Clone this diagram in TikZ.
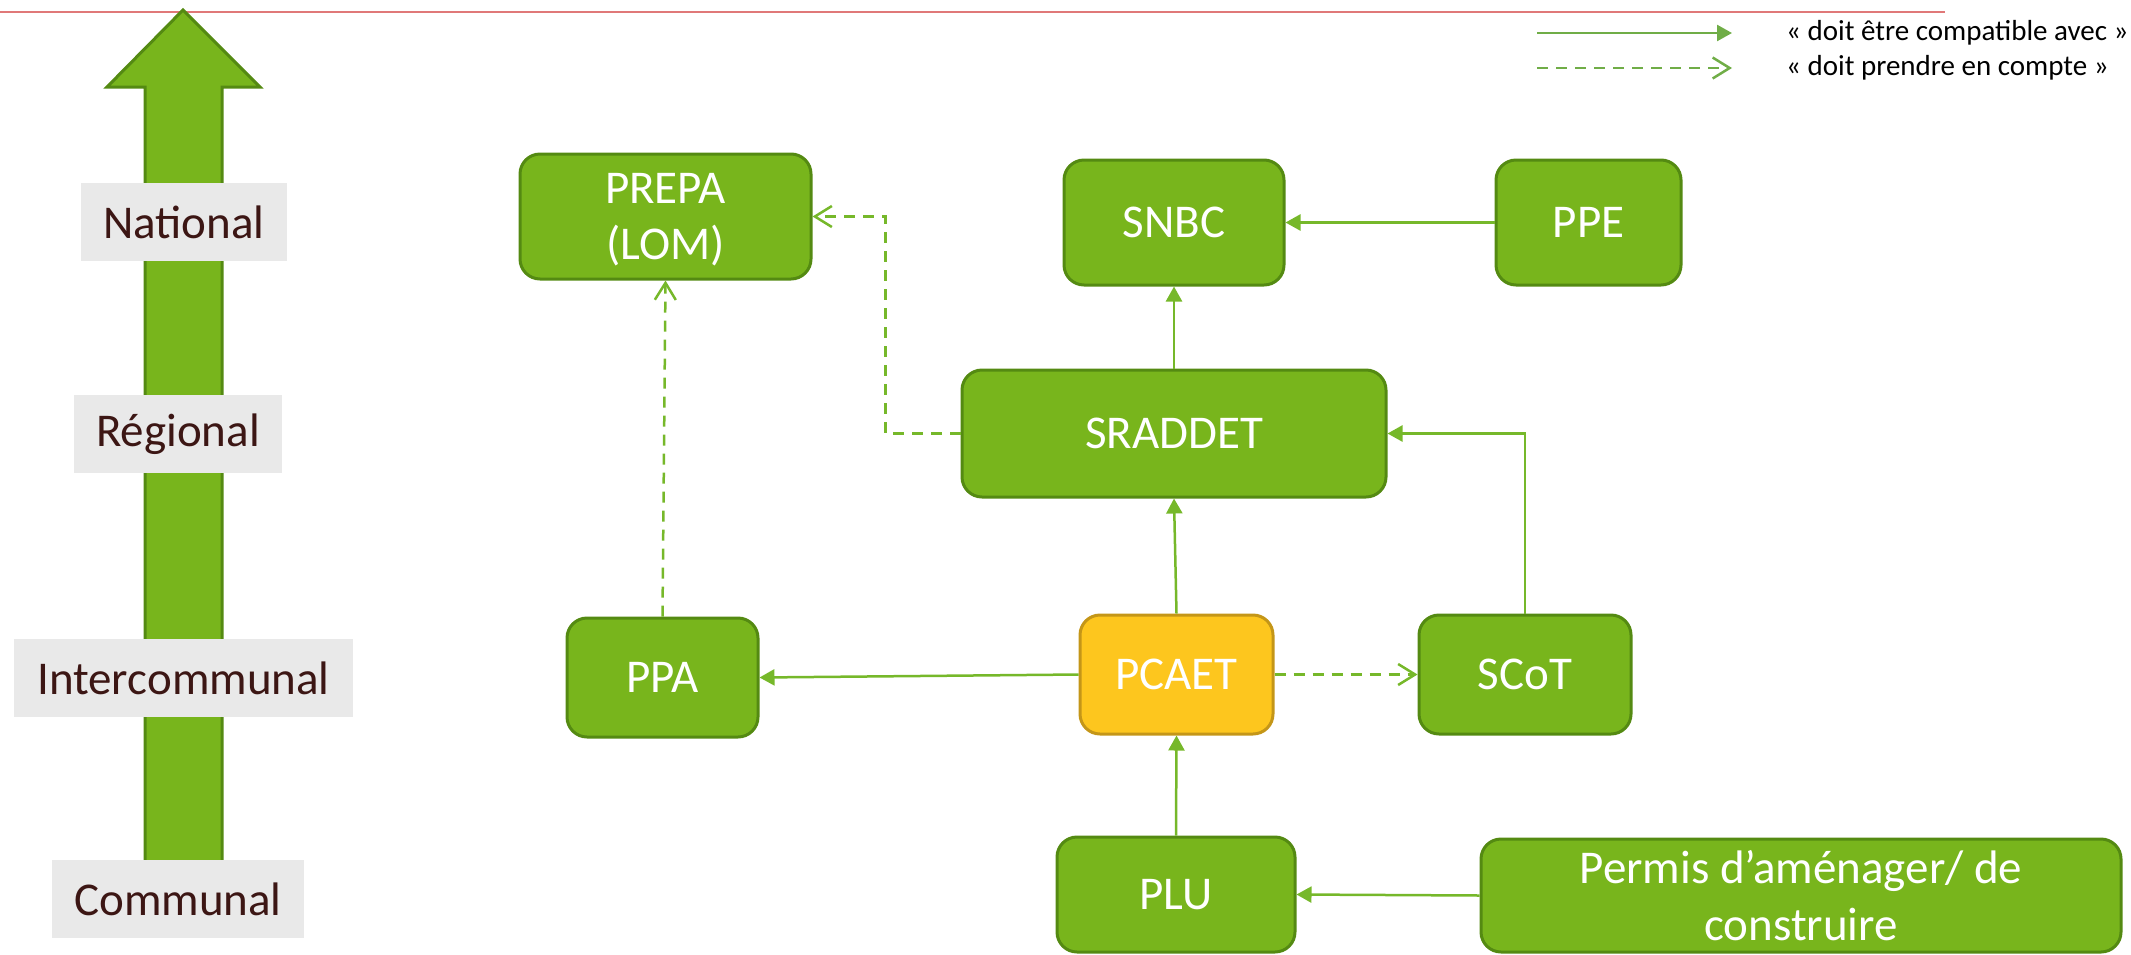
\documentclass[tikz,border=0pt]{standalone}
\usepackage{fontspec}
\setmainfont{Carlito}
\usetikzlibrary{arrows.meta,calc}
\definecolor{boxgreen}{RGB}{120,181,28}
\definecolor{boxedge}{RGB}{84,138,18}
\definecolor{linkgreen}{RGB}{118,184,42}
\definecolor{leggreen}{RGB}{112,173,71}
\definecolor{pcaetfill}{RGB}{253,198,30}
\definecolor{pcaetedge}{RGB}{196,150,24}
\definecolor{lblfill}{RGB}{233,233,233}
\definecolor{lbltext}{RGB}{60,22,20}
\definecolor{redline}{RGB}{224,120,120}
\tikzset{
  planbox/.style={draw=boxedge, fill=boxgreen, line width=3pt, rounded corners=20pt,
    text=white, inner sep=0pt, align=center, font=\fontsize{47}{56}\selectfont},
  yellowbox/.style={planbox, draw=pcaetedge, fill=pcaetfill},
  levellabel/.style={fill=lblfill, text=lbltext, inner sep=0pt, font=\fontsize{47}{57}\selectfont},
  compat/.style={draw=linkgreen, line width=2.5pt, -{Triangle[length=15pt,width=16pt]}},
  compte/.style={draw=linkgreen, line width=2.5pt, dash pattern=on 11pt off 8pt,
    -{Straight Barb[length=17pt,width=21pt]}},
  legtext/.style={anchor=west, inner sep=0pt, text=black, font=\fontsize{29}{35}\selectfont},
}
\begin{document}
\begin{tikzpicture}[x=1pt,y=-1pt]
\useasboundingbox (0,0) rectangle (2131,954);
% top red line
\draw[redline, line width=2pt] (0,12) -- (1945,12);
% big level arrow
\draw[fill=boxgreen, draw=boxedge, line width=3pt, line join=miter]
  (183,10) -- (260,87) -- (222,87) -- (222,900) -- (145,900) -- (145,87) -- (107,87) -- cycle;
% level labels
\node[levellabel, minimum width=206pt, minimum height=78pt] (national) at (184,222) {National};
\node[levellabel, minimum width=208pt, minimum height=78pt] (regional) at (178,434) {Régional};
\node[levellabel, minimum width=339pt, minimum height=78pt] (intercom) at (183.5,678) {Intercommunal};
\node[levellabel, minimum width=252pt, minimum height=78pt] (communal) at (178,899) {Communal};
% legend
\coordinate (la1) at (1537,33);
\coordinate (lb1) at (1732,33);
\coordinate (la2) at (1537,68);
\coordinate (lb2) at (1732,68);
\draw[compat, draw=leggreen] (la1) -- (lb1);
\draw[compte, draw=leggreen] (la2) -- (lb2);
\node[legtext] (lt1) at (1786,33) {« doit être compatible avec »};
\node[legtext] (lt2) at (1786,68) {« doit prendre en compte »};
% plans
\node[planbox, text depth=0pt, minimum width=291pt, minimum height=125pt] (prepa) at (665.5,216.5) {PREPA\\(LOM)};
\node[planbox, minimum width=220pt, minimum height=125pt] (snbc) at (1174,222.5) {SNBC};
\node[planbox, minimum width=185pt, minimum height=125pt] (ppe) at (1588.5,222.5) {PPE};
\node[planbox, minimum width=424pt, minimum height=127pt] (sraddet) at (1174,433.5) {SRADDET};
\node[planbox, minimum width=191pt, minimum height=119pt] (ppa) at (662.5,677.5) {PPA};
\node[yellowbox, minimum width=193pt, minimum height=119pt] (pcaet) at (1176.5,674.5) {PCAET};
\node[planbox, minimum width=212pt, minimum height=119pt] (scot) at (1525,674.5) {SCoT};
\node[planbox, minimum width=238pt, minimum height=115pt] (plu) at (1176,894.5) {PLU};
\node[planbox, font=\fontsize{47}{57}\selectfont, minimum width=640pt, minimum height=113pt] (permis) at (1801,895.5) {Permis d’aménager/ de\\construire};
% connectors
\draw[compat] (ppe.west) -- (snbc.east);
\draw[compat] (sraddet.north) -- (snbc.south);
\draw[compte] (sraddet.west) -- ++(-75,0) |- (prepa.east);
\draw[compte] (ppa.north) -- (prepa.south);
\draw[compat] (pcaet.north) -- (sraddet.south);
\draw[compat] (scot.north) |- (sraddet.east);
\draw[compat] (pcaet.west) -- (ppa.east);
\draw[compte] (pcaet.east) -- (scot.west);
\draw[compat] (plu.north) -- (pcaet.south);
\draw[compat] (permis.west) -- (plu.east);
\end{tikzpicture}
\end{document}
